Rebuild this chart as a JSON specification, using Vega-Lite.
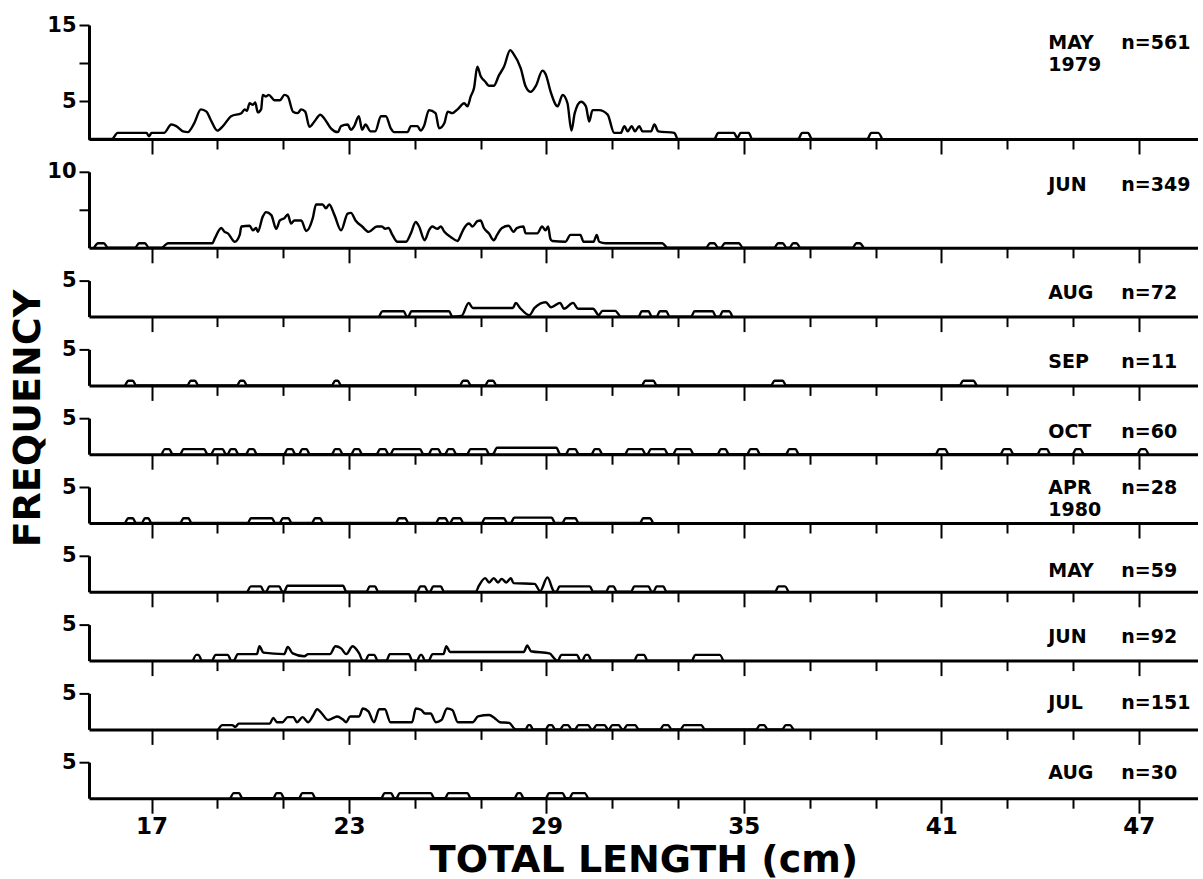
{
"$schema": "https://vega.github.io/schema/vega-lite/v6.json",
"background": "white",
"padding": {"left": 9, "top": 14, "right": 0, "bottom": 0},
"title": {"text": "FREQUENCY", "orient": "left", "anchor": "middle", "fontSize": 38, "font": "DejaVu Sans", "fontWeight": "bold", "color": "#000", "offset": -1, "dx": 28},
"spacing": 32.8,
"bounds": "flush",
"config": {
  "view": {"stroke": null},
  "axis": {"grid": false, "domainColor": "#000", "tickColor": "#000", "labelColor": "#000", "titleColor": "#000", "labelFont": "DejaVu Sans", "labelFontWeight": "bold", "titleFont": "DejaVu Sans", "titleFontWeight": "bold", "domainWidth": 3, "tickWidth": 2, "labelFlush": false},
  "axisY": {"labelFontSize": 21, "labelPadding": 3, "tickSize": 10},
  "text": {"font": "DejaVu Sans", "fontWeight": "bold", "fontSize": 19, "color": "#000", "align": "left", "baseline": "middle"}
},
"datasets": {
"labels": [
{"panel":1,"month":"MAY","year":"1979","n":"n=561"},
{"panel":2,"month":"JUN","n":"n=349"},
{"panel":3,"month":"AUG","n":"n=72"},
{"panel":4,"month":"SEP","n":"n=11"},
{"panel":5,"month":"OCT","n":"n=60"},
{"panel":6,"month":"APR","year":"1980","n":"n=28"},
{"panel":7,"month":"MAY","n":"n=59"},
{"panel":8,"month":"JUN","n":"n=92"},
{"panel":9,"month":"JUL","n":"n=151"},
{"panel":10,"month":"AUG","n":"n=30"}
],
"freq": [
{"panel":1,"length":15.08,"frequency":0},{"panel":1,"length":15.8,"frequency":0},{"panel":1,"length":15.97,"frequency":0.8},{"panel":1,"length":16.85,"frequency":0.8},{"panel":1,"length":16.92,"frequency":0.35},{"panel":1,"length":17.0,"frequency":0.8},{"panel":1,"length":17.38,"frequency":0.8},{"panel":1,"length":17.6,"frequency":1.9},{"panel":1,"length":17.75,"frequency":1.7},{"panel":1,"length":17.96,"frequency":1.0},{"panel":1,"length":18.1,"frequency":0.9},{"panel":1,"length":18.3,"frequency":2.1},{"panel":1,"length":18.5,"frequency":3.9},{"panel":1,"length":18.67,"frequency":3.6},{"panel":1,"length":18.8,"frequency":2.5},{"panel":1,"length":19.0,"frequency":1.1},{"panel":1,"length":19.17,"frequency":1.7},{"panel":1,"length":19.42,"frequency":3.0},{"panel":1,"length":19.73,"frequency":3.4},{"panel":1,"length":19.83,"frequency":3.9},{"panel":1,"length":19.9,"frequency":3.7},{"panel":1,"length":19.98,"frequency":4.7},{"panel":1,"length":20.08,"frequency":4.5},{"panel":1,"length":20.15,"frequency":4.8},{"panel":1,"length":20.23,"frequency":3.5},{"panel":1,"length":20.33,"frequency":3.9},{"panel":1,"length":20.38,"frequency":5.8},{"panel":1,"length":20.48,"frequency":5.6},{"panel":1,"length":20.56,"frequency":5.8},{"panel":1,"length":20.74,"frequency":5.1},{"panel":1,"length":20.9,"frequency":5.1},{"panel":1,"length":21.04,"frequency":5.8},{"panel":1,"length":21.14,"frequency":5.6},{"panel":1,"length":21.3,"frequency":3.6},{"panel":1,"length":21.44,"frequency":3.4},{"panel":1,"length":21.55,"frequency":3.9},{"panel":1,"length":21.67,"frequency":3.6},{"panel":1,"length":21.8,"frequency":1.6},{"panel":1,"length":21.95,"frequency":2.3},{"panel":1,"length":22.13,"frequency":3.2},{"panel":1,"length":22.25,"frequency":2.7},{"panel":1,"length":22.45,"frequency":1.4},{"panel":1,"length":22.66,"frequency":0.9},{"panel":1,"length":22.76,"frequency":1.7},{"panel":1,"length":22.96,"frequency":1.9},{"panel":1,"length":23.06,"frequency":1.2},{"panel":1,"length":23.16,"frequency":1.7},{"panel":1,"length":23.3,"frequency":3.0},{"panel":1,"length":23.4,"frequency":1.2},{"panel":1,"length":23.5,"frequency":1.9},{"panel":1,"length":23.66,"frequency":1.0},{"panel":1,"length":23.8,"frequency":1.0},{"panel":1,"length":23.97,"frequency":3.0},{"panel":1,"length":24.12,"frequency":3.0},{"panel":1,"length":24.27,"frequency":1.4},{"panel":1,"length":24.37,"frequency":0.9},{"panel":1,"length":24.78,"frequency":0.9},{"panel":1,"length":24.88,"frequency":1.7},{"panel":1,"length":25.08,"frequency":1.7},{"panel":1,"length":25.18,"frequency":1.1},{"panel":1,"length":25.28,"frequency":1.7},{"panel":1,"length":25.43,"frequency":3.8},{"panel":1,"length":25.63,"frequency":3.4},{"panel":1,"length":25.74,"frequency":1.4},{"panel":1,"length":25.9,"frequency":2.1},{"panel":1,"length":26.0,"frequency":3.6},{"panel":1,"length":26.14,"frequency":3.4},{"panel":1,"length":26.3,"frequency":3.9},{"panel":1,"length":26.5,"frequency":4.7},{"panel":1,"length":26.6,"frequency":4.3},{"panel":1,"length":26.7,"frequency":5.6},{"panel":1,"length":26.8,"frequency":6.7},{"panel":1,"length":26.9,"frequency":9.5},{"panel":1,"length":27.0,"frequency":8.3},{"panel":1,"length":27.15,"frequency":7.5},{"panel":1,"length":27.25,"frequency":7.0},{"panel":1,"length":27.4,"frequency":7.0},{"panel":1,"length":27.56,"frequency":8.4},{"panel":1,"length":27.71,"frequency":9.5},{"panel":1,"length":27.9,"frequency":11.7},{"panel":1,"length":28.0,"frequency":11.2},{"panel":1,"length":28.22,"frequency":9.3},{"panel":1,"length":28.37,"frequency":6.9},{"panel":1,"length":28.52,"frequency":6.2},{"panel":1,"length":28.68,"frequency":7.0},{"panel":1,"length":28.88,"frequency":9.0},{"panel":1,"length":28.98,"frequency":8.5},{"panel":1,"length":29.13,"frequency":6.2},{"panel":1,"length":29.34,"frequency":4.3},{"panel":1,"length":29.49,"frequency":5.8},{"panel":1,"length":29.64,"frequency":4.7},{"panel":1,"length":29.76,"frequency":1.1},{"panel":1,"length":29.86,"frequency":3.4},{"panel":1,"length":30.05,"frequency":4.9},{"panel":1,"length":30.2,"frequency":4.3},{"panel":1,"length":30.3,"frequency":2.3},{"panel":1,"length":30.4,"frequency":3.8},{"panel":1,"length":30.6,"frequency":3.8},{"panel":1,"length":30.86,"frequency":3.2},{"panel":1,"length":31.06,"frequency":0.8},{"panel":1,"length":31.26,"frequency":0.8},{"panel":1,"length":31.37,"frequency":1.7},{"panel":1,"length":31.47,"frequency":1.0},{"panel":1,"length":31.59,"frequency":1.7},{"panel":1,"length":31.69,"frequency":1.0},{"panel":1,"length":31.82,"frequency":1.7},{"panel":1,"length":31.92,"frequency":1.0},{"panel":1,"length":32.18,"frequency":1.0},{"panel":1,"length":32.28,"frequency":1.9},{"panel":1,"length":32.4,"frequency":1.0},{"panel":1,"length":32.89,"frequency":0.8},{"panel":1,"length":32.99,"frequency":0},{"panel":1,"length":34.1,"frequency":0},{"panel":1,"length":34.22,"frequency":0.8},{"panel":1,"length":34.7,"frequency":0.8},{"panel":1,"length":34.8,"frequency":0.1},{"panel":1,"length":34.9,"frequency":0.8},{"panel":1,"length":35.15,"frequency":0.8},{"panel":1,"length":35.25,"frequency":0},{"panel":1,"length":36.65,"frequency":0},{"panel":1,"length":36.77,"frequency":0.8},{"panel":1,"length":36.95,"frequency":0.8},{"panel":1,"length":37.07,"frequency":0},{"panel":1,"length":38.75,"frequency":0},{"panel":1,"length":38.87,"frequency":0.8},{"panel":1,"length":39.08,"frequency":0.8},{"panel":1,"length":39.2,"frequency":0},

{"panel":2,"length":15.25,"frequency":0},{"panel":2,"length":15.38,"frequency":0.6},{"panel":2,"length":15.55,"frequency":0.6},{"panel":2,"length":15.68,"frequency":0},{"panel":2,"length":16.5,"frequency":0},{"panel":2,"length":16.62,"frequency":0.6},{"panel":2,"length":16.8,"frequency":0.6},{"panel":2,"length":16.92,"frequency":0},{"panel":2,"length":17.3,"frequency":0},{"panel":2,"length":17.5,"frequency":0.6},{"panel":2,"length":18.85,"frequency":0.6},{"panel":2,"length":18.92,"frequency":1.2},{"panel":2,"length":19.12,"frequency":2.6},{"panel":2,"length":19.22,"frequency":2.1},{"panel":2,"length":19.32,"frequency":1.9},{"panel":2,"length":19.53,"frequency":0.8},{"panel":2,"length":19.68,"frequency":1.7},{"panel":2,"length":19.73,"frequency":2.8},{"panel":2,"length":19.98,"frequency":2.9},{"panel":2,"length":20.08,"frequency":2.3},{"panel":2,"length":20.18,"frequency":2.6},{"panel":2,"length":20.23,"frequency":2.1},{"panel":2,"length":20.38,"frequency":4.1},{"panel":2,"length":20.48,"frequency":4.7},{"panel":2,"length":20.64,"frequency":4.3},{"panel":2,"length":20.79,"frequency":2.5},{"panel":2,"length":20.9,"frequency":3.6},{"panel":2,"length":21.04,"frequency":3.9},{"panel":2,"length":21.14,"frequency":4.4},{"panel":2,"length":21.24,"frequency":3.2},{"panel":2,"length":21.34,"frequency":3.6},{"panel":2,"length":21.55,"frequency":3.6},{"panel":2,"length":21.7,"frequency":2.2},{"panel":2,"length":21.9,"frequency":3.9},{"panel":2,"length":22.0,"frequency":5.7},{"panel":2,"length":22.2,"frequency":5.7},{"panel":2,"length":22.3,"frequency":5.2},{"panel":2,"length":22.4,"frequency":5.7},{"panel":2,"length":22.56,"frequency":4.3},{"panel":2,"length":22.76,"frequency":2.3},{"panel":2,"length":22.96,"frequency":4.5},{"panel":2,"length":23.06,"frequency":4.6},{"panel":2,"length":23.2,"frequency":3.6},{"panel":2,"length":23.4,"frequency":2.8},{"panel":2,"length":23.6,"frequency":2.1},{"panel":2,"length":23.85,"frequency":2.8},{"panel":2,"length":24.0,"frequency":2.8},{"panel":2,"length":24.1,"frequency":2.5},{"panel":2,"length":24.2,"frequency":2.6},{"panel":2,"length":24.32,"frequency":1.7},{"panel":2,"length":24.47,"frequency":0.8},{"panel":2,"length":24.73,"frequency":0.8},{"panel":2,"length":24.88,"frequency":1.9},{"panel":2,"length":25.03,"frequency":3.4},{"panel":2,"length":25.13,"frequency":2.8},{"panel":2,"length":25.3,"frequency":1.0},{"panel":2,"length":25.43,"frequency":2.3},{"panel":2,"length":25.53,"frequency":2.8},{"panel":2,"length":25.69,"frequency":2.5},{"panel":2,"length":25.79,"frequency":2.8},{"panel":2,"length":25.9,"frequency":2.1},{"panel":2,"length":26.1,"frequency":1.4},{"panel":2,"length":26.3,"frequency":0.9},{"panel":2,"length":26.4,"frequency":1.7},{"panel":2,"length":26.5,"frequency":2.6},{"panel":2,"length":26.65,"frequency":3.2},{"panel":2,"length":26.75,"frequency":2.8},{"panel":2,"length":26.9,"frequency":3.5},{"panel":2,"length":27.0,"frequency":3.6},{"panel":2,"length":27.1,"frequency":2.6},{"panel":2,"length":27.25,"frequency":1.9},{"panel":2,"length":27.4,"frequency":1.0},{"panel":2,"length":27.5,"frequency":1.7},{"panel":2,"length":27.65,"frequency":2.6},{"panel":2,"length":27.85,"frequency":2.9},{"panel":2,"length":28.0,"frequency":2.1},{"panel":2,"length":28.1,"frequency":2.6},{"panel":2,"length":28.3,"frequency":2.8},{"panel":2,"length":28.37,"frequency":1.9},{"panel":2,"length":28.72,"frequency":1.9},{"panel":2,"length":28.87,"frequency":2.8},{"panel":2,"length":28.97,"frequency":2.3},{"panel":2,"length":29.05,"frequency":2.8},{"panel":2,"length":29.12,"frequency":1.2},{"panel":2,"length":29.18,"frequency":0.9},{"panel":2,"length":29.58,"frequency":0.8},{"panel":2,"length":29.73,"frequency":1.7},{"panel":2,"length":30.03,"frequency":1.7},{"panel":2,"length":30.13,"frequency":0.8},{"panel":2,"length":30.43,"frequency":0.8},{"panel":2,"length":30.53,"frequency":1.7},{"panel":2,"length":30.6,"frequency":0.8},{"panel":2,"length":30.8,"frequency":0.6},{"panel":2,"length":32.52,"frequency":0.6},{"panel":2,"length":32.68,"frequency":0},{"panel":2,"length":33.85,"frequency":0},{"panel":2,"length":33.97,"frequency":0.6},{"panel":2,"length":34.1,"frequency":0.6},{"panel":2,"length":34.22,"frequency":0},{"panel":2,"length":34.3,"frequency":0},{"panel":2,"length":34.42,"frequency":0.6},{"panel":2,"length":34.85,"frequency":0.6},{"panel":2,"length":34.97,"frequency":0},{"panel":2,"length":35.92,"frequency":0},{"panel":2,"length":36.04,"frequency":0.6},{"panel":2,"length":36.18,"frequency":0.6},{"panel":2,"length":36.3,"frequency":0},{"panel":2,"length":36.38,"frequency":0},{"panel":2,"length":36.5,"frequency":0.6},{"panel":2,"length":36.6,"frequency":0.6},{"panel":2,"length":36.72,"frequency":0},{"panel":2,"length":38.3,"frequency":0},{"panel":2,"length":38.42,"frequency":0.6},{"panel":2,"length":38.52,"frequency":0.6},{"panel":2,"length":38.64,"frequency":0},

{"panel":3,"length":23.92,"frequency":0},{"panel":3,"length":24.02,"frequency":0.75},{"panel":3,"length":24.66,"frequency":0.75},{"panel":3,"length":24.76,"frequency":0},{"panel":3,"length":24.8,"frequency":0},{"panel":3,"length":24.9,"frequency":0.75},{"panel":3,"length":26.04,"frequency":0.75},{"panel":3,"length":26.14,"frequency":0},{"panel":3,"length":26.42,"frequency":0.1},{"panel":3,"length":26.64,"frequency":1.9},{"panel":3,"length":26.76,"frequency":1.2},{"panel":3,"length":27.98,"frequency":1.2},{"panel":3,"length":28.07,"frequency":1.9},{"panel":3,"length":28.2,"frequency":1.2},{"panel":3,"length":28.48,"frequency":0.2},{"panel":3,"length":28.64,"frequency":1.2},{"panel":3,"length":28.98,"frequency":2.0},{"panel":3,"length":29.14,"frequency":1.3},{"panel":3,"length":29.42,"frequency":1.9},{"panel":3,"length":29.53,"frequency":1.1},{"panel":3,"length":29.81,"frequency":1.9},{"panel":3,"length":29.96,"frequency":1.1},{"panel":3,"length":30.42,"frequency":1.1},{"panel":3,"length":30.59,"frequency":0.2},{"panel":3,"length":30.7,"frequency":0.8},{"panel":3,"length":31.09,"frequency":0.8},{"panel":3,"length":31.26,"frequency":0},{"panel":3,"length":31.8,"frequency":0},{"panel":3,"length":31.9,"frequency":0.75},{"panel":3,"length":32.1,"frequency":0.75},{"panel":3,"length":32.2,"frequency":0},{"panel":3,"length":32.35,"frequency":0},{"panel":3,"length":32.45,"frequency":0.75},{"panel":3,"length":32.64,"frequency":0.75},{"panel":3,"length":32.74,"frequency":0},{"panel":3,"length":33.4,"frequency":0},{"panel":3,"length":33.5,"frequency":0.75},{"panel":3,"length":34.05,"frequency":0.75},{"panel":3,"length":34.15,"frequency":0},{"panel":3,"length":34.26,"frequency":0},{"panel":3,"length":34.36,"frequency":0.75},{"panel":3,"length":34.55,"frequency":0.75},{"panel":3,"length":34.65,"frequency":0},

{"panel":4,"length":16.2,"frequency":0},{"panel":4,"length":16.3,"frequency":0.65},{"panel":4,"length":16.43,"frequency":0.65},{"panel":4,"length":16.53,"frequency":0},{"panel":4,"length":18.09,"frequency":0},{"panel":4,"length":18.19,"frequency":0.65},{"panel":4,"length":18.32,"frequency":0.65},{"panel":4,"length":18.42,"frequency":0},{"panel":4,"length":19.6,"frequency":0},{"panel":4,"length":19.7,"frequency":0.65},{"panel":4,"length":19.8,"frequency":0.65},{"panel":4,"length":19.9,"frequency":0},{"panel":4,"length":22.48,"frequency":0},{"panel":4,"length":22.58,"frequency":0.65},{"panel":4,"length":22.66,"frequency":0.65},{"panel":4,"length":22.76,"frequency":0},{"panel":4,"length":26.37,"frequency":0},{"panel":4,"length":26.47,"frequency":0.65},{"panel":4,"length":26.6,"frequency":0.65},{"panel":4,"length":26.7,"frequency":0},{"panel":4,"length":27.14,"frequency":0},{"panel":4,"length":27.24,"frequency":0.65},{"panel":4,"length":27.38,"frequency":0.65},{"panel":4,"length":27.48,"frequency":0},{"panel":4,"length":31.9,"frequency":0},{"panel":4,"length":32.0,"frequency":0.65},{"panel":4,"length":32.25,"frequency":0.65},{"panel":4,"length":32.35,"frequency":0},{"panel":4,"length":35.83,"frequency":0},{"panel":4,"length":35.93,"frequency":0.65},{"panel":4,"length":36.18,"frequency":0.65},{"panel":4,"length":36.28,"frequency":0},{"panel":4,"length":41.56,"frequency":0},{"panel":4,"length":41.66,"frequency":0.65},{"panel":4,"length":41.97,"frequency":0.65},{"panel":4,"length":42.07,"frequency":0},

{"panel":5,"length":17.31,"frequency":0},{"panel":5,"length":17.41,"frequency":0.7},{"panel":5,"length":17.54,"frequency":0.7},{"panel":5,"length":17.64,"frequency":0},{"panel":5,"length":17.87,"frequency":0},{"panel":5,"length":17.97,"frequency":0.7},{"panel":5,"length":18.6,"frequency":0.7},{"panel":5,"length":18.7,"frequency":0},{"panel":5,"length":18.81,"frequency":0},{"panel":5,"length":18.91,"frequency":0.7},{"panel":5,"length":19.16,"frequency":0.7},{"panel":5,"length":19.26,"frequency":0},{"panel":5,"length":19.31,"frequency":0},{"panel":5,"length":19.41,"frequency":0.7},{"panel":5,"length":19.54,"frequency":0.7},{"panel":5,"length":19.64,"frequency":0},{"panel":5,"length":19.87,"frequency":0},{"panel":5,"length":19.97,"frequency":0.7},{"panel":5,"length":20.1,"frequency":0.7},{"panel":5,"length":20.2,"frequency":0},{"panel":5,"length":21.03,"frequency":0},{"panel":5,"length":21.13,"frequency":0.7},{"panel":5,"length":21.27,"frequency":0.7},{"panel":5,"length":21.37,"frequency":0},{"panel":5,"length":21.48,"frequency":0},{"panel":5,"length":21.58,"frequency":0.7},{"panel":5,"length":21.71,"frequency":0.7},{"panel":5,"length":21.81,"frequency":0},{"panel":5,"length":22.48,"frequency":0},{"panel":5,"length":22.58,"frequency":0.7},{"panel":5,"length":22.71,"frequency":0.7},{"panel":5,"length":22.81,"frequency":0},{"panel":5,"length":23.07,"frequency":0},{"panel":5,"length":23.17,"frequency":0.7},{"panel":5,"length":23.3,"frequency":0.7},{"panel":5,"length":23.4,"frequency":0},{"panel":5,"length":23.84,"frequency":0},{"panel":5,"length":23.94,"frequency":0.7},{"panel":5,"length":24.1,"frequency":0.7},{"panel":5,"length":24.2,"frequency":0},{"panel":5,"length":24.26,"frequency":0},{"panel":5,"length":24.36,"frequency":0.7},{"panel":5,"length":25.16,"frequency":0.7},{"panel":5,"length":25.26,"frequency":0},{"panel":5,"length":25.42,"frequency":0},{"panel":5,"length":25.52,"frequency":0.7},{"panel":5,"length":25.71,"frequency":0.7},{"panel":5,"length":25.81,"frequency":0},{"panel":5,"length":25.92,"frequency":0},{"panel":5,"length":26.02,"frequency":0.7},{"panel":5,"length":26.16,"frequency":0.7},{"panel":5,"length":26.26,"frequency":0},{"panel":5,"length":26.59,"frequency":0},{"panel":5,"length":26.69,"frequency":0.7},{"panel":5,"length":27.16,"frequency":0.7},{"panel":5,"length":27.26,"frequency":0},{"panel":5,"length":27.37,"frequency":0},{"panel":5,"length":27.5,"frequency":0.9},{"panel":5,"length":29.3,"frequency":0.9},{"panel":5,"length":29.42,"frequency":0},{"panel":5,"length":29.59,"frequency":0},{"panel":5,"length":29.69,"frequency":0.7},{"panel":5,"length":29.88,"frequency":0.7},{"panel":5,"length":29.98,"frequency":0},{"panel":5,"length":30.37,"frequency":0},{"panel":5,"length":30.47,"frequency":0.7},{"panel":5,"length":30.6,"frequency":0.7},{"panel":5,"length":30.7,"frequency":0},{"panel":5,"length":31.39,"frequency":0},{"panel":5,"length":31.49,"frequency":0.7},{"panel":5,"length":31.91,"frequency":0.7},{"panel":5,"length":32.01,"frequency":0},{"panel":5,"length":32.07,"frequency":0},{"panel":5,"length":32.17,"frequency":0.7},{"panel":5,"length":32.59,"frequency":0.7},{"panel":5,"length":32.69,"frequency":0},{"panel":5,"length":32.85,"frequency":0},{"panel":5,"length":32.95,"frequency":0.7},{"panel":5,"length":33.37,"frequency":0.7},{"panel":5,"length":33.47,"frequency":0},{"panel":5,"length":34.2,"frequency":0},{"panel":5,"length":34.3,"frequency":0.7},{"panel":5,"length":34.44,"frequency":0.7},{"panel":5,"length":34.54,"frequency":0},{"panel":5,"length":35.1,"frequency":0},{"panel":5,"length":35.2,"frequency":0.7},{"panel":5,"length":35.39,"frequency":0.7},{"panel":5,"length":35.49,"frequency":0},{"panel":5,"length":36.28,"frequency":0},{"panel":5,"length":36.38,"frequency":0.7},{"panel":5,"length":36.57,"frequency":0.7},{"panel":5,"length":36.67,"frequency":0},{"panel":5,"length":40.83,"frequency":0},{"panel":5,"length":40.93,"frequency":0.7},{"panel":5,"length":41.12,"frequency":0.7},{"panel":5,"length":41.22,"frequency":0},{"panel":5,"length":42.8,"frequency":0},{"panel":5,"length":42.9,"frequency":0.7},{"panel":5,"length":43.09,"frequency":0.7},{"panel":5,"length":43.19,"frequency":0},{"panel":5,"length":43.92,"frequency":0},{"panel":5,"length":44.02,"frequency":0.7},{"panel":5,"length":44.21,"frequency":0.7},{"panel":5,"length":44.31,"frequency":0},{"panel":5,"length":44.99,"frequency":0},{"panel":5,"length":45.09,"frequency":0.7},{"panel":5,"length":45.23,"frequency":0.7},{"panel":5,"length":45.33,"frequency":0},{"panel":5,"length":46.96,"frequency":0},{"panel":5,"length":47.06,"frequency":0.7},{"panel":5,"length":47.19,"frequency":0.7},{"panel":5,"length":47.29,"frequency":0},

{"panel":6,"length":16.2,"frequency":0},{"panel":6,"length":16.3,"frequency":0.65},{"panel":6,"length":16.43,"frequency":0.65},{"panel":6,"length":16.53,"frequency":0},{"panel":6,"length":16.7,"frequency":0},{"panel":6,"length":16.8,"frequency":0.65},{"panel":6,"length":16.9,"frequency":0.65},{"panel":6,"length":17.0,"frequency":0},{"panel":6,"length":17.87,"frequency":0},{"panel":6,"length":17.97,"frequency":0.65},{"panel":6,"length":18.12,"frequency":0.65},{"panel":6,"length":18.22,"frequency":0},{"panel":6,"length":19.92,"frequency":0},{"panel":6,"length":20.02,"frequency":0.65},{"panel":6,"length":20.66,"frequency":0.65},{"panel":6,"length":20.76,"frequency":0},{"panel":6,"length":20.89,"frequency":0},{"panel":6,"length":20.99,"frequency":0.65},{"panel":6,"length":21.16,"frequency":0.65},{"panel":6,"length":21.26,"frequency":0},{"panel":6,"length":21.87,"frequency":0},{"panel":6,"length":21.97,"frequency":0.65},{"panel":6,"length":22.12,"frequency":0.65},{"panel":6,"length":22.22,"frequency":0},{"panel":6,"length":24.42,"frequency":0},{"panel":6,"length":24.52,"frequency":0.65},{"panel":6,"length":24.71,"frequency":0.65},{"panel":6,"length":24.81,"frequency":0},{"panel":6,"length":25.64,"frequency":0},{"panel":6,"length":25.74,"frequency":0.65},{"panel":6,"length":25.93,"frequency":0.65},{"panel":6,"length":26.03,"frequency":0},{"panel":6,"length":26.07,"frequency":0},{"panel":6,"length":26.17,"frequency":0.65},{"panel":6,"length":26.38,"frequency":0.65},{"panel":6,"length":26.48,"frequency":0},{"panel":6,"length":27.03,"frequency":0},{"panel":6,"length":27.13,"frequency":0.65},{"panel":6,"length":27.71,"frequency":0.65},{"panel":6,"length":27.81,"frequency":0},{"panel":6,"length":27.92,"frequency":0},{"panel":6,"length":28.02,"frequency":0.75},{"panel":6,"length":29.16,"frequency":0.75},{"panel":6,"length":29.26,"frequency":0},{"panel":6,"length":29.48,"frequency":0},{"panel":6,"length":29.58,"frequency":0.65},{"panel":6,"length":29.88,"frequency":0.65},{"panel":6,"length":29.98,"frequency":0},{"panel":6,"length":31.84,"frequency":0},{"panel":6,"length":31.94,"frequency":0.65},{"panel":6,"length":32.14,"frequency":0.65},{"panel":6,"length":32.24,"frequency":0},

{"panel":7,"length":19.92,"frequency":0},{"panel":7,"length":20.02,"frequency":0.75},{"panel":7,"length":20.32,"frequency":0.75},{"panel":7,"length":20.42,"frequency":0},{"panel":7,"length":20.48,"frequency":0},{"panel":7,"length":20.58,"frequency":0.75},{"panel":7,"length":20.88,"frequency":0.75},{"panel":7,"length":20.98,"frequency":0},{"panel":7,"length":21.03,"frequency":0},{"panel":7,"length":21.13,"frequency":0.85},{"panel":7,"length":22.82,"frequency":0.85},{"panel":7,"length":22.92,"frequency":0},{"panel":7,"length":23.53,"frequency":0},{"panel":7,"length":23.63,"frequency":0.75},{"panel":7,"length":23.79,"frequency":0.75},{"panel":7,"length":23.89,"frequency":0},{"panel":7,"length":25.07,"frequency":0},{"panel":7,"length":25.17,"frequency":0.75},{"panel":7,"length":25.3,"frequency":0.75},{"panel":7,"length":25.4,"frequency":0},{"panel":7,"length":25.46,"frequency":0},{"panel":7,"length":25.56,"frequency":0.75},{"panel":7,"length":25.79,"frequency":0.75},{"panel":7,"length":25.89,"frequency":0},{"panel":7,"length":26.85,"frequency":0},{"panel":7,"length":26.95,"frequency":0.85},{"panel":7,"length":27.14,"frequency":1.9},{"panel":7,"length":27.26,"frequency":1.3},{"panel":7,"length":27.4,"frequency":1.9},{"panel":7,"length":27.53,"frequency":1.3},{"panel":7,"length":27.64,"frequency":1.8},{"panel":7,"length":27.78,"frequency":1.3},{"panel":7,"length":27.92,"frequency":1.9},{"panel":7,"length":28.0,"frequency":1.2},{"panel":7,"length":28.64,"frequency":1.1},{"panel":7,"length":28.81,"frequency":0.1},{"panel":7,"length":29.03,"frequency":2.0},{"panel":7,"length":29.22,"frequency":0.1},{"panel":7,"length":29.26,"frequency":0},{"panel":7,"length":29.3,"frequency":0},{"panel":7,"length":29.4,"frequency":0.75},{"panel":7,"length":30.32,"frequency":0.75},{"panel":7,"length":30.42,"frequency":0},{"panel":7,"length":30.81,"frequency":0},{"panel":7,"length":30.91,"frequency":0.75},{"panel":7,"length":31.04,"frequency":0.75},{"panel":7,"length":31.14,"frequency":0},{"panel":7,"length":31.57,"frequency":0},{"panel":7,"length":31.67,"frequency":0.75},{"panel":7,"length":32.1,"frequency":0.75},{"panel":7,"length":32.2,"frequency":0},{"panel":7,"length":32.25,"frequency":0},{"panel":7,"length":32.35,"frequency":0.75},{"panel":7,"length":32.55,"frequency":0.75},{"panel":7,"length":32.65,"frequency":0},{"panel":7,"length":35.95,"frequency":0},{"panel":7,"length":36.05,"frequency":0.75},{"panel":7,"length":36.25,"frequency":0.75},{"panel":7,"length":36.35,"frequency":0},

{"panel":8,"length":18.26,"frequency":0},{"panel":8,"length":18.36,"frequency":0.8},{"panel":8,"length":18.43,"frequency":0.8},{"panel":8,"length":18.53,"frequency":0},{"panel":8,"length":18.84,"frequency":0},{"panel":8,"length":18.94,"frequency":0.8},{"panel":8,"length":19.32,"frequency":0.8},{"panel":8,"length":19.42,"frequency":0},{"panel":8,"length":19.5,"frequency":0},{"panel":8,"length":19.62,"frequency":0.9},{"panel":8,"length":20.2,"frequency":0.9},{"panel":8,"length":20.28,"frequency":2.0},{"panel":8,"length":20.4,"frequency":1.1},{"panel":8,"length":21.03,"frequency":0.9},{"panel":8,"length":21.14,"frequency":1.9},{"panel":8,"length":21.29,"frequency":1.0},{"panel":8,"length":21.64,"frequency":0.6},{"panel":8,"length":21.76,"frequency":0.9},{"panel":8,"length":22.42,"frequency":0.9},{"panel":8,"length":22.59,"frequency":2.0},{"panel":8,"length":22.76,"frequency":1.7},{"panel":8,"length":22.92,"frequency":0.9},{"panel":8,"length":23.11,"frequency":2.0},{"panel":8,"length":23.31,"frequency":1.0},{"panel":8,"length":23.42,"frequency":0},{"panel":8,"length":23.5,"frequency":0},{"panel":8,"length":23.6,"frequency":0.8},{"panel":8,"length":23.77,"frequency":0.8},{"panel":8,"length":23.87,"frequency":0},{"panel":8,"length":24.14,"frequency":0},{"panel":8,"length":24.24,"frequency":0.9},{"panel":8,"length":24.82,"frequency":0.9},{"panel":8,"length":24.92,"frequency":0},{"panel":8,"length":25.07,"frequency":0},{"panel":8,"length":25.17,"frequency":0.8},{"panel":8,"length":25.21,"frequency":0.8},{"panel":8,"length":25.31,"frequency":0},{"panel":8,"length":25.42,"frequency":0},{"panel":8,"length":25.54,"frequency":0.9},{"panel":8,"length":25.87,"frequency":0.9},{"panel":8,"length":25.96,"frequency":2.0},{"panel":8,"length":26.07,"frequency":1.2},{"panel":8,"length":28.31,"frequency":1.2},{"panel":8,"length":28.42,"frequency":2.1},{"panel":8,"length":28.53,"frequency":1.3},{"panel":8,"length":29.09,"frequency":1.0},{"panel":8,"length":29.26,"frequency":0.2},{"panel":8,"length":29.31,"frequency":0},{"panel":8,"length":29.35,"frequency":0},{"panel":8,"length":29.45,"frequency":0.8},{"panel":8,"length":29.93,"frequency":0.8},{"panel":8,"length":30.03,"frequency":0},{"panel":8,"length":30.09,"frequency":0},{"panel":8,"length":30.19,"frequency":0.8},{"panel":8,"length":30.27,"frequency":0.8},{"panel":8,"length":30.37,"frequency":0},{"panel":8,"length":31.67,"frequency":0},{"panel":8,"length":31.77,"frequency":0.8},{"panel":8,"length":31.97,"frequency":0.8},{"panel":8,"length":32.07,"frequency":0},{"panel":8,"length":33.42,"frequency":0},{"panel":8,"length":33.52,"frequency":0.8},{"panel":8,"length":34.27,"frequency":0.8},{"panel":8,"length":34.37,"frequency":0},

{"panel":9,"length":19.03,"frequency":0},{"panel":9,"length":19.15,"frequency":0.6},{"panel":9,"length":19.45,"frequency":0.6},{"panel":9,"length":19.55,"frequency":0.35},{"panel":9,"length":19.65,"frequency":0.8},{"panel":9,"length":20.59,"frequency":0.8},{"panel":9,"length":20.7,"frequency":1.6},{"panel":9,"length":20.81,"frequency":1.0},{"panel":9,"length":20.98,"frequency":1.0},{"panel":9,"length":21.14,"frequency":1.7},{"panel":9,"length":21.31,"frequency":1.7},{"panel":9,"length":21.42,"frequency":1.0},{"panel":9,"length":21.59,"frequency":1.7},{"panel":9,"length":21.76,"frequency":1.0},{"panel":9,"length":21.92,"frequency":2.0},{"panel":9,"length":22.03,"frequency":2.8},{"panel":9,"length":22.14,"frequency":2.4},{"panel":9,"length":22.37,"frequency":1.3},{"panel":9,"length":22.53,"frequency":1.6},{"panel":9,"length":22.64,"frequency":1.8},{"panel":9,"length":22.81,"frequency":1.4},{"panel":9,"length":22.92,"frequency":1.0},{"panel":9,"length":23.03,"frequency":1.8},{"panel":9,"length":23.31,"frequency":1.8},{"panel":9,"length":23.42,"frequency":2.9},{"panel":9,"length":23.59,"frequency":2.5},{"panel":9,"length":23.76,"frequency":1.0},{"panel":9,"length":23.92,"frequency":2.8},{"panel":9,"length":24.09,"frequency":2.8},{"panel":9,"length":24.26,"frequency":1.0},{"panel":9,"length":24.92,"frequency":1.0},{"panel":9,"length":25.03,"frequency":2.9},{"panel":9,"length":25.2,"frequency":2.7},{"panel":9,"length":25.31,"frequency":2.2},{"panel":9,"length":25.48,"frequency":2.2},{"panel":9,"length":25.64,"frequency":1.0},{"panel":9,"length":25.81,"frequency":1.3},{"panel":9,"length":25.98,"frequency":2.9},{"panel":9,"length":26.14,"frequency":2.7},{"panel":9,"length":26.31,"frequency":1.0},{"panel":9,"length":26.76,"frequency":1.0},{"panel":9,"length":26.92,"frequency":1.8},{"panel":9,"length":27.26,"frequency":2.0},{"panel":9,"length":27.42,"frequency":1.6},{"panel":9,"length":27.59,"frequency":1.0},{"panel":9,"length":27.87,"frequency":0.9},{"panel":9,"length":28.03,"frequency":0.1},{"panel":9,"length":28.1,"frequency":0},{"panel":9,"length":28.37,"frequency":0},{"panel":9,"length":28.45,"frequency":0.6},{"panel":9,"length":28.51,"frequency":0.6},{"panel":9,"length":28.59,"frequency":0},{"panel":9,"length":28.98,"frequency":0},{"panel":9,"length":29.07,"frequency":0.6},{"panel":9,"length":29.17,"frequency":0.6},{"panel":9,"length":29.26,"frequency":0},{"panel":9,"length":29.42,"frequency":0},{"panel":9,"length":29.52,"frequency":0.6},{"panel":9,"length":29.66,"frequency":0.6},{"panel":9,"length":29.76,"frequency":0},{"panel":9,"length":29.87,"frequency":0},{"panel":9,"length":29.97,"frequency":0.6},{"panel":9,"length":30.27,"frequency":0.6},{"panel":9,"length":30.37,"frequency":0},{"panel":9,"length":30.42,"frequency":0},{"panel":9,"length":30.52,"frequency":0.6},{"panel":9,"length":30.77,"frequency":0.6},{"panel":9,"length":30.87,"frequency":0},{"panel":9,"length":30.9,"frequency":0},{"panel":9,"length":31.0,"frequency":0.6},{"panel":9,"length":31.2,"frequency":0.6},{"panel":9,"length":31.3,"frequency":0},{"panel":9,"length":31.35,"frequency":0},{"panel":9,"length":31.45,"frequency":0.6},{"panel":9,"length":31.7,"frequency":0.6},{"panel":9,"length":31.8,"frequency":0},{"panel":9,"length":32.46,"frequency":0},{"panel":9,"length":32.56,"frequency":0.6},{"panel":9,"length":32.7,"frequency":0.6},{"panel":9,"length":32.8,"frequency":0},{"panel":9,"length":33.08,"frequency":0},{"panel":9,"length":33.18,"frequency":0.6},{"panel":9,"length":33.71,"frequency":0.6},{"panel":9,"length":33.81,"frequency":0},{"panel":9,"length":35.38,"frequency":0},{"panel":9,"length":35.48,"frequency":0.6},{"panel":9,"length":35.62,"frequency":0.6},{"panel":9,"length":35.72,"frequency":0},{"panel":9,"length":36.17,"frequency":0},{"panel":9,"length":36.27,"frequency":0.6},{"panel":9,"length":36.4,"frequency":0.6},{"panel":9,"length":36.5,"frequency":0},

{"panel":10,"length":19.4,"frequency":0},{"panel":10,"length":19.5,"frequency":0.7},{"panel":10,"length":19.66,"frequency":0.7},{"panel":10,"length":19.76,"frequency":0},{"panel":10,"length":20.7,"frequency":0},{"panel":10,"length":20.8,"frequency":0.7},{"panel":10,"length":20.93,"frequency":0.7},{"panel":10,"length":21.03,"frequency":0},{"panel":10,"length":21.48,"frequency":0},{"panel":10,"length":21.58,"frequency":0.7},{"panel":10,"length":21.88,"frequency":0.7},{"panel":10,"length":21.98,"frequency":0},{"panel":10,"length":23.98,"frequency":0},{"panel":10,"length":24.08,"frequency":0.7},{"panel":10,"length":24.28,"frequency":0.7},{"panel":10,"length":24.38,"frequency":0},{"panel":10,"length":24.44,"frequency":0},{"panel":10,"length":24.54,"frequency":0.7},{"panel":10,"length":25.49,"frequency":0.7},{"panel":10,"length":25.59,"frequency":0},{"panel":10,"length":25.92,"frequency":0},{"panel":10,"length":26.02,"frequency":0.7},{"panel":10,"length":26.6,"frequency":0.7},{"panel":10,"length":26.7,"frequency":0},{"panel":10,"length":28.03,"frequency":0},{"panel":10,"length":28.13,"frequency":0.7},{"panel":10,"length":28.21,"frequency":0.7},{"panel":10,"length":28.31,"frequency":0},{"panel":10,"length":28.98,"frequency":0},{"panel":10,"length":29.08,"frequency":0.7},{"panel":10,"length":29.49,"frequency":0.7},{"panel":10,"length":29.59,"frequency":0},{"panel":10,"length":29.7,"frequency":0},{"panel":10,"length":29.8,"frequency":0.7},{"panel":10,"length":30.16,"frequency":0.7},{"panel":10,"length":30.26,"frequency":0}
]
},
"vconcat": [
{"height": 114, "width": 1109, "resolve": {"axis": {"x": "independent"}}, "layer": [
 {"data": {"name": "freq"}, "transform": [{"filter": "datum.panel == 1"}], "mark": {"type": "line", "interpolate": "monotone", "color": "#000", "strokeWidth": 2.4},
  "encoding": {"x": {"field": "length", "type": "quantitative", "scale": {"domain": [15.1, 48.8], "nice": false}, "axis": {"orient": "bottom", "values": [19,21,25,27,31,33,37,39,43,45], "tickSize": 10, "labels": false, "title": null}},
   "y": {"field": "frequency", "type": "quantitative", "scale": {"domain": [0, 15], "nice": false}, "axis": {"values": [5,10,15], "labelExpr": "datum.value == 10 ? '' : datum.label", "title": null}}}},
 {"data": {"name": "labels"}, "transform": [{"filter": "datum.panel == 1"}], "mark": {"type": "text"},
  "encoding": {"x": {"datum": 44.25, "type": "quantitative", "scale": {"domain": [15.1, 48.8], "nice": false}, "axis": {"orient": "bottom", "values": [17,23,29,35,41,47], "tickSize": 15, "labels": false, "title": null, "domain": false}},
   "y": {"datum": 12.6, "type": "quantitative", "scale": {"domain": [0, 15], "nice": false}}, "text": {"field": "month"}}},
 {"data": {"name": "labels"}, "transform": [{"filter": "datum.panel == 1"}], "mark": {"type": "text"},
  "encoding": {"x": {"datum": 46.47, "type": "quantitative", "scale": {"domain": [15.1, 48.8], "nice": false}, "axis": null},
   "y": {"datum": 12.6, "type": "quantitative", "scale": {"domain": [0, 15], "nice": false}}, "text": {"field": "n"}}},
 {"data": {"name": "labels"}, "transform": [{"filter": "datum.panel == 1"}], "mark": {"type": "text"},
  "encoding": {"x": {"datum": 44.25, "type": "quantitative", "scale": {"domain": [15.1, 48.8], "nice": false}, "axis": null},
   "y": {"datum": 9.8, "type": "quantitative", "scale": {"domain": [0, 15], "nice": false}}, "text": {"field": "year"}}}
]},
{"height": 76, "width": 1109, "resolve": {"axis": {"x": "independent"}}, "layer": [
 {"data": {"name": "freq"}, "transform": [{"filter": "datum.panel == 2"}], "mark": {"type": "line", "interpolate": "monotone", "color": "#000", "strokeWidth": 2.4},
  "encoding": {"x": {"field": "length", "type": "quantitative", "scale": {"domain": [15.1, 48.8], "nice": false}, "axis": {"orient": "bottom", "values": [19,21,25,27,31,33,37,39,43,45], "tickSize": 10, "labels": false, "title": null}},
   "y": {"field": "frequency", "type": "quantitative", "scale": {"domain": [0, 10], "nice": false}, "axis": {"values": [5,10], "labelExpr": "datum.value == 5 ? '' : datum.label", "title": null}}}},
 {"data": {"name": "labels"}, "transform": [{"filter": "datum.panel == 2"}], "mark": {"type": "text"},
  "encoding": {"x": {"datum": 44.25, "type": "quantitative", "scale": {"domain": [15.1, 48.8], "nice": false}, "axis": {"orient": "bottom", "values": [17,23,29,35,41,47], "tickSize": 15, "labels": false, "title": null, "domain": false}},
   "y": {"datum": 8.2, "type": "quantitative", "scale": {"domain": [0, 10], "nice": false}}, "text": {"field": "month"}}},
 {"data": {"name": "labels"}, "transform": [{"filter": "datum.panel == 2"}], "mark": {"type": "text"},
  "encoding": {"x": {"datum": 46.47, "type": "quantitative", "scale": {"domain": [15.1, 48.8], "nice": false}, "axis": null},
   "y": {"datum": 8.2, "type": "quantitative", "scale": {"domain": [0, 10], "nice": false}}, "text": {"field": "n"}}}
]},
{"height": 36, "width": 1109, "resolve": {"axis": {"x": "independent"}}, "layer": [
 {"data": {"name": "freq"}, "transform": [{"filter": "datum.panel == 3"}], "mark": {"type": "line", "interpolate": "monotone", "color": "#000", "strokeWidth": 2.4},
  "encoding": {"x": {"field": "length", "type": "quantitative", "scale": {"domain": [15.1, 48.8], "nice": false}, "axis": {"orient": "bottom", "values": [19,21,25,27,31,33,37,39,43,45], "tickSize": 10, "labels": false, "title": null}},
   "y": {"field": "frequency", "type": "quantitative", "scale": {"domain": [0, 5], "nice": false}, "axis": {"values": [5], "title": null}}}},
 {"data": {"name": "labels"}, "transform": [{"filter": "datum.panel == 3"}], "mark": {"type": "text"},
  "encoding": {"x": {"datum": 44.25, "type": "quantitative", "scale": {"domain": [15.1, 48.8], "nice": false}, "axis": {"orient": "bottom", "values": [17,23,29,35,41,47], "tickSize": 15, "labels": false, "title": null, "domain": false}},
   "y": {"datum": 3.3, "type": "quantitative", "scale": {"domain": [0, 5], "nice": false}}, "text": {"field": "month"}}},
 {"data": {"name": "labels"}, "transform": [{"filter": "datum.panel == 3"}], "mark": {"type": "text"},
  "encoding": {"x": {"datum": 46.47, "type": "quantitative", "scale": {"domain": [15.1, 48.8], "nice": false}, "axis": null},
   "y": {"datum": 3.3, "type": "quantitative", "scale": {"domain": [0, 5], "nice": false}}, "text": {"field": "n"}}}
]},
{"height": 36, "width": 1109, "resolve": {"axis": {"x": "independent"}}, "layer": [
 {"data": {"name": "freq"}, "transform": [{"filter": "datum.panel == 4"}], "mark": {"type": "line", "interpolate": "monotone", "color": "#000", "strokeWidth": 2.4},
  "encoding": {"x": {"field": "length", "type": "quantitative", "scale": {"domain": [15.1, 48.8], "nice": false}, "axis": {"orient": "bottom", "values": [19,21,25,27,31,33,37,39,43,45], "tickSize": 10, "labels": false, "title": null}},
   "y": {"field": "frequency", "type": "quantitative", "scale": {"domain": [0, 5], "nice": false}, "axis": {"values": [5], "title": null}}}},
 {"data": {"name": "labels"}, "transform": [{"filter": "datum.panel == 4"}], "mark": {"type": "text"},
  "encoding": {"x": {"datum": 44.25, "type": "quantitative", "scale": {"domain": [15.1, 48.8], "nice": false}, "axis": {"orient": "bottom", "values": [17,23,29,35,41,47], "tickSize": 15, "labels": false, "title": null, "domain": false}},
   "y": {"datum": 3.2, "type": "quantitative", "scale": {"domain": [0, 5], "nice": false}}, "text": {"field": "month"}}},
 {"data": {"name": "labels"}, "transform": [{"filter": "datum.panel == 4"}], "mark": {"type": "text"},
  "encoding": {"x": {"datum": 46.47, "type": "quantitative", "scale": {"domain": [15.1, 48.8], "nice": false}, "axis": null},
   "y": {"datum": 3.2, "type": "quantitative", "scale": {"domain": [0, 5], "nice": false}}, "text": {"field": "n"}}}
]},
{"height": 36, "width": 1109, "resolve": {"axis": {"x": "independent"}}, "layer": [
 {"data": {"name": "freq"}, "transform": [{"filter": "datum.panel == 5"}], "mark": {"type": "line", "interpolate": "monotone", "color": "#000", "strokeWidth": 2.4},
  "encoding": {"x": {"field": "length", "type": "quantitative", "scale": {"domain": [15.1, 48.8], "nice": false}, "axis": {"orient": "bottom", "values": [19,21,25,27,31,33,37,39,43,45], "tickSize": 10, "labels": false, "title": null}},
   "y": {"field": "frequency", "type": "quantitative", "scale": {"domain": [0, 5], "nice": false}, "axis": {"values": [5], "title": null}}}},
 {"data": {"name": "labels"}, "transform": [{"filter": "datum.panel == 5"}], "mark": {"type": "text"},
  "encoding": {"x": {"datum": 44.25, "type": "quantitative", "scale": {"domain": [15.1, 48.8], "nice": false}, "axis": {"orient": "bottom", "values": [17,23,29,35,41,47], "tickSize": 15, "labels": false, "title": null, "domain": false}},
   "y": {"datum": 3.1, "type": "quantitative", "scale": {"domain": [0, 5], "nice": false}}, "text": {"field": "month"}}},
 {"data": {"name": "labels"}, "transform": [{"filter": "datum.panel == 5"}], "mark": {"type": "text"},
  "encoding": {"x": {"datum": 46.47, "type": "quantitative", "scale": {"domain": [15.1, 48.8], "nice": false}, "axis": null},
   "y": {"datum": 3.1, "type": "quantitative", "scale": {"domain": [0, 5], "nice": false}}, "text": {"field": "n"}}}
]},
{"height": 36, "width": 1109, "resolve": {"axis": {"x": "independent"}}, "layer": [
 {"data": {"name": "freq"}, "transform": [{"filter": "datum.panel == 6"}], "mark": {"type": "line", "interpolate": "monotone", "color": "#000", "strokeWidth": 2.4},
  "encoding": {"x": {"field": "length", "type": "quantitative", "scale": {"domain": [15.1, 48.8], "nice": false}, "axis": {"orient": "bottom", "values": [19,21,25,27,31,33,37,39,43,45], "tickSize": 10, "labels": false, "title": null}},
   "y": {"field": "frequency", "type": "quantitative", "scale": {"domain": [0, 5], "nice": false}, "axis": {"values": [5], "title": null}}}},
 {"data": {"name": "labels"}, "transform": [{"filter": "datum.panel == 6"}], "mark": {"type": "text"},
  "encoding": {"x": {"datum": 44.25, "type": "quantitative", "scale": {"domain": [15.1, 48.8], "nice": false}, "axis": {"orient": "bottom", "values": [17,23,29,35,41,47], "tickSize": 15, "labels": false, "title": null, "domain": false}},
   "y": {"datum": 4.85, "type": "quantitative", "scale": {"domain": [0, 5], "nice": false}}, "text": {"field": "month"}}},
 {"data": {"name": "labels"}, "transform": [{"filter": "datum.panel == 6"}], "mark": {"type": "text"},
  "encoding": {"x": {"datum": 46.47, "type": "quantitative", "scale": {"domain": [15.1, 48.8], "nice": false}, "axis": null},
   "y": {"datum": 4.85, "type": "quantitative", "scale": {"domain": [0, 5], "nice": false}}, "text": {"field": "n"}}},
 {"data": {"name": "labels"}, "transform": [{"filter": "datum.panel == 6"}], "mark": {"type": "text"},
  "encoding": {"x": {"datum": 44.25, "type": "quantitative", "scale": {"domain": [15.1, 48.8], "nice": false}, "axis": null},
   "y": {"datum": 1.85, "type": "quantitative", "scale": {"domain": [0, 5], "nice": false}}, "text": {"field": "year"}}}
]},
{"height": 36, "width": 1109, "resolve": {"axis": {"x": "independent"}}, "layer": [
 {"data": {"name": "freq"}, "transform": [{"filter": "datum.panel == 7"}], "mark": {"type": "line", "interpolate": "monotone", "color": "#000", "strokeWidth": 2.4},
  "encoding": {"x": {"field": "length", "type": "quantitative", "scale": {"domain": [15.1, 48.8], "nice": false}, "axis": {"orient": "bottom", "values": [19,21,25,27,31,33,37,39,43,45], "tickSize": 10, "labels": false, "title": null}},
   "y": {"field": "frequency", "type": "quantitative", "scale": {"domain": [0, 5], "nice": false}, "axis": {"values": [5], "title": null}}}},
 {"data": {"name": "labels"}, "transform": [{"filter": "datum.panel == 7"}], "mark": {"type": "text"},
  "encoding": {"x": {"datum": 44.25, "type": "quantitative", "scale": {"domain": [15.1, 48.8], "nice": false}, "axis": {"orient": "bottom", "values": [17,23,29,35,41,47], "tickSize": 15, "labels": false, "title": null, "domain": false}},
   "y": {"datum": 2.9, "type": "quantitative", "scale": {"domain": [0, 5], "nice": false}}, "text": {"field": "month"}}},
 {"data": {"name": "labels"}, "transform": [{"filter": "datum.panel == 7"}], "mark": {"type": "text"},
  "encoding": {"x": {"datum": 46.47, "type": "quantitative", "scale": {"domain": [15.1, 48.8], "nice": false}, "axis": null},
   "y": {"datum": 2.9, "type": "quantitative", "scale": {"domain": [0, 5], "nice": false}}, "text": {"field": "n"}}}
]},
{"height": 36, "width": 1109, "resolve": {"axis": {"x": "independent"}}, "layer": [
 {"data": {"name": "freq"}, "transform": [{"filter": "datum.panel == 8"}], "mark": {"type": "line", "interpolate": "monotone", "color": "#000", "strokeWidth": 2.4},
  "encoding": {"x": {"field": "length", "type": "quantitative", "scale": {"domain": [15.1, 48.8], "nice": false}, "axis": {"orient": "bottom", "values": [19,21,25,27,31,33,37,39,43,45], "tickSize": 10, "labels": false, "title": null}},
   "y": {"field": "frequency", "type": "quantitative", "scale": {"domain": [0, 5], "nice": false}, "axis": {"values": [5], "title": null}}}},
 {"data": {"name": "labels"}, "transform": [{"filter": "datum.panel == 8"}], "mark": {"type": "text"},
  "encoding": {"x": {"datum": 44.25, "type": "quantitative", "scale": {"domain": [15.1, 48.8], "nice": false}, "axis": {"orient": "bottom", "values": [17,23,29,35,41,47], "tickSize": 15, "labels": false, "title": null, "domain": false}},
   "y": {"datum": 3.3, "type": "quantitative", "scale": {"domain": [0, 5], "nice": false}}, "text": {"field": "month"}}},
 {"data": {"name": "labels"}, "transform": [{"filter": "datum.panel == 8"}], "mark": {"type": "text"},
  "encoding": {"x": {"datum": 46.47, "type": "quantitative", "scale": {"domain": [15.1, 48.8], "nice": false}, "axis": null},
   "y": {"datum": 3.3, "type": "quantitative", "scale": {"domain": [0, 5], "nice": false}}, "text": {"field": "n"}}}
]},
{"height": 36, "width": 1109, "resolve": {"axis": {"x": "independent"}}, "layer": [
 {"data": {"name": "freq"}, "transform": [{"filter": "datum.panel == 9"}], "mark": {"type": "line", "interpolate": "monotone", "color": "#000", "strokeWidth": 2.4},
  "encoding": {"x": {"field": "length", "type": "quantitative", "scale": {"domain": [15.1, 48.8], "nice": false}, "axis": {"orient": "bottom", "values": [19,21,25,27,31,33,37,39,43,45], "tickSize": 10, "labels": false, "title": null}},
   "y": {"field": "frequency", "type": "quantitative", "scale": {"domain": [0, 5], "nice": false}, "axis": {"values": [5], "title": null}}}},
 {"data": {"name": "labels"}, "transform": [{"filter": "datum.panel == 9"}], "mark": {"type": "text"},
  "encoding": {"x": {"datum": 44.25, "type": "quantitative", "scale": {"domain": [15.1, 48.8], "nice": false}, "axis": {"orient": "bottom", "values": [17,23,29,35,41,47], "tickSize": 15, "labels": false, "title": null, "domain": false}},
   "y": {"datum": 3.6, "type": "quantitative", "scale": {"domain": [0, 5], "nice": false}}, "text": {"field": "month"}}},
 {"data": {"name": "labels"}, "transform": [{"filter": "datum.panel == 9"}], "mark": {"type": "text"},
  "encoding": {"x": {"datum": 46.47, "type": "quantitative", "scale": {"domain": [15.1, 48.8], "nice": false}, "axis": null},
   "y": {"datum": 3.6, "type": "quantitative", "scale": {"domain": [0, 5], "nice": false}}, "text": {"field": "n"}}}
]},
{"height": 36, "width": 1109, "resolve": {"axis": {"x": "independent"}}, "layer": [
 {"data": {"name": "freq"}, "transform": [{"filter": "datum.panel == 10"}], "mark": {"type": "line", "interpolate": "monotone", "color": "#000", "strokeWidth": 2.4},
  "encoding": {"x": {"field": "length", "type": "quantitative", "scale": {"domain": [15.1, 48.8], "nice": false}, "axis": {"orient": "bottom", "values": [19,21,25,27,31,33,37,39,43,45], "tickSize": 10, "labels": false, "title": null}},
   "y": {"field": "frequency", "type": "quantitative", "scale": {"domain": [0, 5], "nice": false}, "axis": {"values": [5], "title": null}}}},
 {"data": {"name": "labels"}, "transform": [{"filter": "datum.panel == 10"}], "mark": {"type": "text"},
  "encoding": {"x": {"datum": 44.25, "type": "quantitative", "scale": {"domain": [15.1, 48.8], "nice": false}, "axis": {"orient": "bottom", "values": [17,23,29,35,41,47], "tickSize": 15, "labels": true, "labelFontSize": 23, "labelPadding": 2, "title": "TOTAL LENGTH (cm)", "titleFontSize": 38, "titlePadding": 3, "domain": false}},
   "y": {"datum": 3.5, "type": "quantitative", "scale": {"domain": [0, 5], "nice": false}}, "text": {"field": "month"}}},
 {"data": {"name": "labels"}, "transform": [{"filter": "datum.panel == 10"}], "mark": {"type": "text"},
  "encoding": {"x": {"datum": 46.47, "type": "quantitative", "scale": {"domain": [15.1, 48.8], "nice": false}, "axis": null},
   "y": {"datum": 3.5, "type": "quantitative", "scale": {"domain": [0, 5], "nice": false}}, "text": {"field": "n"}}}
]}
]
}
